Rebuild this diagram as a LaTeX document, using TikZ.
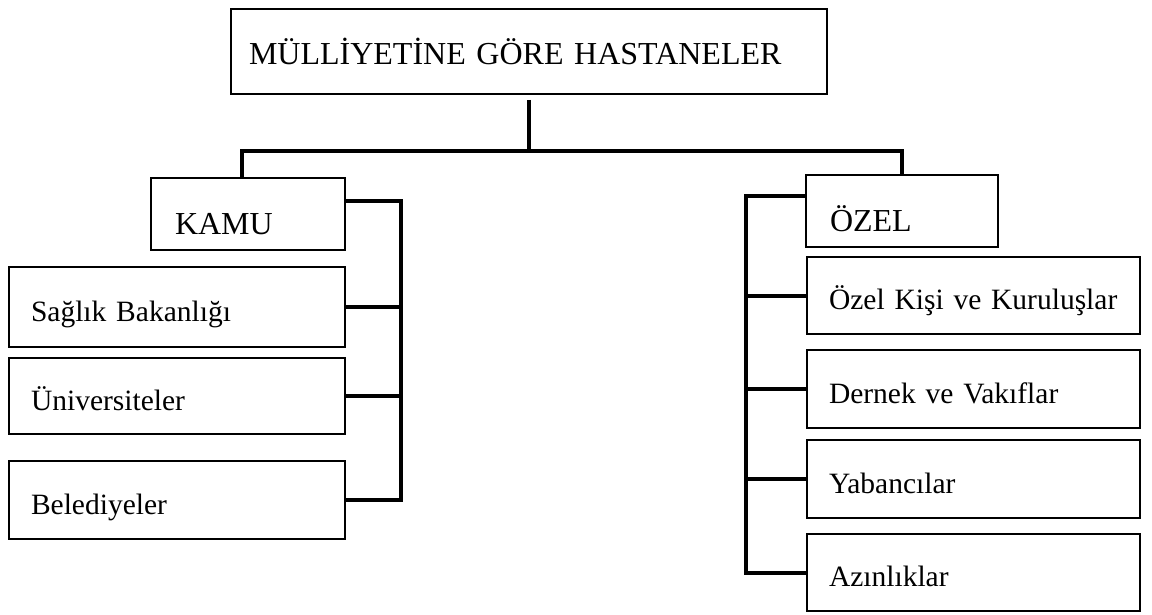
\documentclass[tikz,border=0pt]{standalone}
\usepackage{fontspec}
\setmainfont{Liberation Serif}
\usetikzlibrary{positioning}

\begin{document}
\begin{tikzpicture}[
  x=1pt, y=-1pt,
  box/.style={rectangle, draw=black, line width=2pt, inner ysep=0pt, align=left,
              anchor=north west, text depth=0pt},
  title/.style={box, font=\fontsize{32}{34}\selectfont, inner xsep=18pt,
                text width=560pt, minimum height=85pt, text height=27pt},
  group/.style={box, font=\fontsize{32}{34}\selectfont, inner xsep=24pt,
                text width=#1, minimum height=72pt, text height=40pt},
  leaf/.style={box, font=\fontsize{29.5}{31}\selectfont, inner xsep=22pt,
               text width=#1, minimum height=78pt, text height=28pt},
  link/.style={line width=4pt}
]
  \useasboundingbox (0,0) rectangle (1152,615);

  \node[title] (hosp) at (230,8) {MÜLLİYETİNE GÖRE HASTANELER};
  \node[group=146pt] (kamu) at (150,177) {KAMU};
  \node[group=144pt] (ozel) at (805,174) {ÖZEL};

  \node[leaf=292pt, minimum height=80pt] (sb) at (8,266) {Sağlık Bakanlığı};
  \node[leaf=292pt, minimum height=76pt, below right=9pt and 0pt of sb.south west] (uni) {Üniversiteler};
  \node[leaf=292pt, below right=25pt and 0pt of uni.south west] (bel) {Belediyeler};

  \node[leaf=289pt, minimum height=77pt] (oks) at (806,256) {Özel Kişi ve Kuruluşlar};
  \node[leaf=289pt, below right=14pt and 0pt of oks.south west] (dv) {Dernek ve Vakıflar};
  \node[leaf=289pt, below right=10pt and 0pt of dv.south west] (yab) {Yabancılar};
  \node[leaf=289pt, minimum height=77pt, below right=14pt and 0pt of yab.south west] (azn) {Azınlıklar};

  \coordinate (split) at (528,151);
  \coordinate (kbus) at (401,0);
  \coordinate (obus) at (746,0);

  \draw[link] ([yshift=-5pt]hosp.south) -- (hosp.south |- split);
  \draw[link] ([xshift=-6pt]kamu.north) |- (split) -| (ozel.north);

  \draw[link] ([yshift=13pt]kamu.east) -| (kbus |- bel.east) -- (bel.east);
  \draw[link] (sb.east) -- (sb.east -| kbus);
  \draw[link] (uni.east) -- (uni.east -| kbus);

  \draw[link] ([yshift=15pt]ozel.west) -| (obus |- azn.west) -- (azn.west);
  \draw[link] (oks.west) -- (oks.west -| obus);
  \draw[link] (dv.west) -- (dv.west -| obus);
  \draw[link] (yab.west) -- (yab.west -| obus);
\end{tikzpicture}
\end{document}
